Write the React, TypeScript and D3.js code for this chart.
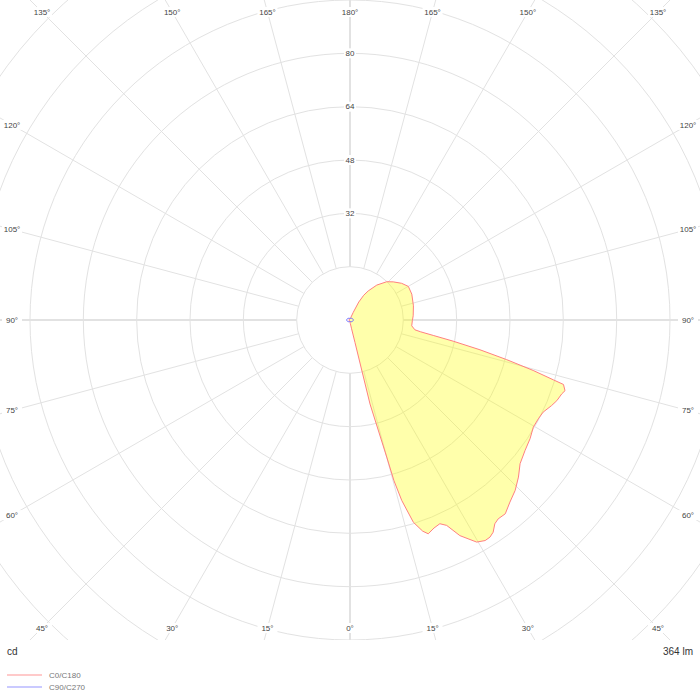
import React, { useEffect, useRef } from 'react';
import * as d3 from 'd3';

// C0 half (right side), gamma measured from nadir
const c0Gamma = [0, 5, 10, 12.5, 13.4, 15, 15.3, 16, 17.4, 19, 20.1, 22, 23.8, 25.2, 27, 29.7, 31.5, 32.8, 34, 35.4, 36.7, 38.7, 41.3, 44.1, 47, 49.8, 53.3, 56.6, 59.7, 62.3, 64.5, 67, 68.7, 70.8, 71.8, 73.2, 73.6, 74.6, 75.8, 77.1, 78.4, 79.5, 80.5, 81.4, 84.6, 89.3, 93.8, 102.6, 112.7, 119.9, 125.4, 131.4, 136.2, 142.5, 147.9, 151, 154, 157, 162, 170, 180];
const c0Values = [0.6, 1.0, 2.5, 6.9, 25.9, 42.6, 50, 56.3, 63.6, 67, 68.3, 67.3, 66.8, 68.1, 72.6, 76.7, 77.6, 77.5, 76.8, 75.0, 74.4, 74.5, 72.7, 71.2, 69.1, 66.8, 65.5, 64.7, 63.7, 63.8, 64.2, 65.7, 66.6, 67.3, 67.9, 66.9, 63.6, 57.0, 48.5, 40.0, 31.6, 25.4, 21.5, 19.7, 18.6, 18.7, 19.0, 19.5, 20.1, 20.2, 19.0, 17.3, 15.9, 13.2, 10.3, 8.5, 6.0, 2.5, 0.8, 0.5, 0.4];

// C180 half (left side)
const c180Gamma = [0, 45, 90, 135, 180];
const c180Values = [0.3, 0.3, 0.3, 0.3, 0.3];

// C90 / C270 halves
const c90Gamma = [0, 30, 60, 90, 120, 150, 180];
const c90Values = [0.45, 0.6, 0.85, 1.0, 0.85, 0.6, 0.45];
const c270Values = [0.45, 0.6, 0.85, 1.0, 0.85, 0.6, 0.45];

const ringValues = [16, 32, 48, 64, 80, 96, 112, 128, 144];
const ringLabels = [32, 48, 64, 80];
const angleTicks = d3.range(0, 360, 15);

const lumens = '364 lm';
const unitLabel = 'cd';
const legendItems = [
  { label: 'C0/C180', color: '#ffb8b8' },
  { label: 'C90/C270', color: '#b8b8ff' },
];

const W = 700;
const H = 700;
const PLOT_H = 640;
const FONT = '"Liberation Sans", Arial, sans-serif';

export default function App() {
  const svgRef = useRef<SVGSVGElement>(null);

  useEffect(() => {
    if (!svgRef.current) return;
    const svg = d3.select(svgRef.current);
    svg.selectAll('*').remove();

    const cx = W / 2;
    const cy = PLOT_H / 2;
    const rScale = d3.scaleLinear().domain([0, 96]).range([0, cy]);

    svg.append('defs').append('clipPath').attr('id', 'plotClip')
      .append('rect').attr('x', 0).attr('y', 0).attr('width', W).attr('height', PLOT_H);

    const plot = svg.append('g').attr('clip-path', 'url(#plotClip)');
    const g = plot.append('g').attr('transform', `translate(${cx},${cy})`);

    // rings
    g.selectAll('.ring')
      .data(ringValues)
      .enter()
      .append('circle')
      .attr('r', d => rScale(d))
      .attr('fill', 'none')
      .attr('stroke', '#e2e2e2')
      .attr('stroke-width', 1);

    // radial lines, starting from the inner ring
    const rad = (deg: number) => (deg * Math.PI) / 180;
    g.selectAll('.spoke')
      .data(angleTicks)
      .enter()
      .append('line')
      .attr('x1', d => rScale(16) * Math.sin(rad(d)))
      .attr('y1', d => rScale(16) * Math.cos(rad(d)))
      .attr('x2', d => 600 * Math.sin(rad(d)))
      .attr('y2', d => 600 * Math.cos(rad(d)))
      .attr('stroke', '#e2e2e2')
      .attr('stroke-width', d => (d % 90 === 0 ? 2 : 1));

    // C0/C180 curve
    const c0Pts = c0Gamma.map((gm, i) => [Math.PI - rad(gm), rScale(c0Values[i])] as [number, number]);
    const c180Pts = c180Gamma.map((gm, i) => [Math.PI + rad(gm), rScale(c180Values[i])] as [number, number]).reverse();
    const radial = d3.lineRadial<[number, number]>()
      .angle(d => d[0])
      .radius(d => d[1])
      .curve(d3.curveLinearClosed);

    g.append('path')
      .datum([...c0Pts, ...c180Pts])
      .attr('fill', 'rgba(255,255,0,0.33)')
      .attr('stroke', '#ff8080')
      .attr('stroke-width', 1)
      .attr('stroke-linejoin', 'round')
      .attr('d', radial);

    // C90/C270 curve
    const c90Pts = c90Gamma.map((gm, i) => [Math.PI - rad(gm), rScale(c90Values[i])] as [number, number]);
    const c270Pts = c90Gamma.map((gm, i) => [Math.PI + rad(gm), rScale(c270Values[i])] as [number, number]).reverse();
    g.append('path')
      .datum([...c90Pts, ...c270Pts])
      .attr('fill', 'none')
      .attr('stroke', '#7070ff')
      .attr('stroke-width', 1)
      .attr('d', d3.lineRadial<[number, number]>().angle(d => d[0]).radius(d => d[1]).curve(d3.curveCardinalClosed));

    // ring labels along the upper axis
    const ringLab = g.selectAll('.ringLab')
      .data(ringLabels)
      .enter()
      .append('g')
      .attr('transform', d => `translate(0,${-rScale(d)})`);
    ringLab.append('rect')
      .attr('x', -6).attr('y', -5).attr('width', 12).attr('height', 10)
      .attr('fill', '#fff');
    ringLab.append('text')
      .attr('text-anchor', 'middle')
      .attr('dy', '0.35em')
      .attr('font-family', FONT)
      .attr('font-size', 8)
      .attr('fill', '#444')
      .text(d => d);

    // angle labels at the frame
    const inset = 12;
    const labelPos = (deg: number) => {
      const sx = Math.sin(rad(deg));
      const sy = Math.cos(rad(deg));
      const ts: number[] = [];
      if (sx > 1e-9) ts.push((W - inset - cx) / sx);
      if (sx < -1e-9) ts.push((cx - inset) / -sx);
      if (sy > 1e-9) ts.push((PLOT_H - inset - cy) / sy);
      if (sy < -1e-9) ts.push((cy - inset) / -sy);
      const t = Math.min(...ts);
      return [cx + t * sx, cy + t * sy];
    };
    const angLab = plot.selectAll('.angLab')
      .data(angleTicks)
      .enter()
      .append('g')
      .attr('transform', d => {
        const [x, y] = labelPos(d);
        return `translate(${x},${y})`;
      });
    angLab.append('rect')
      .attr('x', -10).attr('y', -5).attr('width', 20).attr('height', 10)
      .attr('fill', '#fff');
    angLab.append('text')
      .attr('text-anchor', 'middle')
      .attr('dy', '0.35em')
      .attr('font-family', FONT)
      .attr('font-size', 8)
      .attr('fill', '#444')
      .text(d => `${d <= 180 ? d : 360 - d}°`);

    // footer
    svg.append('text')
      .attr('x', 7).attr('y', 655)
      .attr('font-family', FONT).attr('font-size', 10).attr('fill', '#333')
      .text(unitLabel);
    svg.append('text')
      .attr('x', 693).attr('y', 655)
      .attr('text-anchor', 'end')
      .attr('font-family', FONT).attr('font-size', 10).attr('fill', '#333')
      .text(lumens);

    const legend = svg.selectAll('.legend')
      .data(legendItems)
      .enter()
      .append('g')
      .attr('transform', (_, i) => `translate(7,${675 + i * 12})`);
    legend.append('line')
      .attr('x1', 0).attr('x2', 35).attr('y1', 0).attr('y2', 0)
      .attr('stroke', d => d.color)
      .attr('stroke-width', 1.5);
    legend.append('text')
      .attr('x', 42).attr('dy', '0.35em')
      .attr('font-family', FONT).attr('font-size', 8).attr('fill', '#777')
      .text(d => d.label);
  }, []);

  return (
    <svg
      ref={svgRef}
      width={W}
      height={H}
      style={{ position: 'fixed', left: 0, top: 0, background: '#fff' }}
    />
  );
}
